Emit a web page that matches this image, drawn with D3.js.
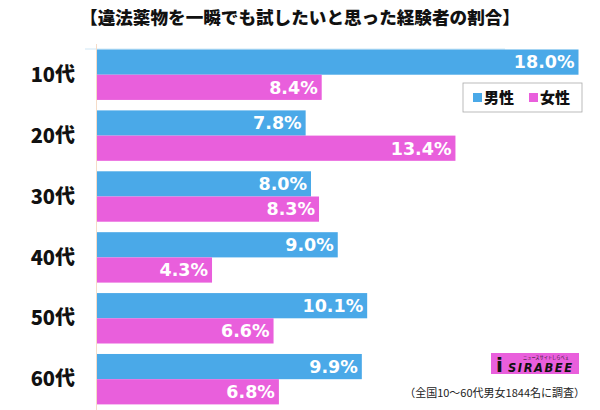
<!DOCTYPE html>
<html><head><meta charset="utf-8">
<script src="https://cdn.jsdelivr.net/npm/d3@7"></script>
<style>
html,body{margin:0;padding:0;background:#fff;}
svg{display:block;font-family:"Noto Sans CJK JP","Noto Sans",sans-serif;}
</style></head>
<body>
<script>
const categories = ["10代","20代","30代","40代","50代","60代"];
const male = [18.0, 7.8, 8.0, 9.0, 10.1, 9.9];
const female = [8.4, 13.4, 8.3, 4.3, 6.6, 6.8];
const seriesNames = ["男性","女性"];
const colors = ["#4aa9e8","#e95fdc"];
const title = "【違法薬物を一瞬でも試したいと思った経験者の割合】";
const note = "（全国10～60代男女1844名に調査）";

const W = 600, H = 410;
const svg = d3.select("body").append("svg").attr("width", W).attr("height", H);

const x = d3.scaleLinear().domain([0, 18]).range([97, 578.5]);
const y = d3.scaleBand().domain(categories).range([49.5, 404.4]).paddingInner(0.172).paddingOuter(0);
const sub = d3.scaleBand().domain(seriesNames).range([0, y.bandwidth()]);

// title
svg.append("text").attr("x", 300).attr("y", 24).attr("text-anchor", "middle")
  .attr("font-size", 17.6).attr("font-weight", 900).attr("fill", "#111").text(title);

// faint top line
svg.append("line").attr("x1", 85).attr("x2", 505).attr("y1", 49).attr("y2", 49)
  .attr("stroke", "#cfe6f5").attr("stroke-width", 1);

const data = categories.map((c, i) => ({cat: c, vals: [male[i], female[i]]}));

const g = svg.selectAll("g.grp").data(data).join("g").attr("class", "grp")
  .attr("transform", d => `translate(0,${y(d.cat)})`);

g.selectAll("rect").data(d => d.vals.map((v, j) => ({v, s: seriesNames[j], j})))
  .join("rect")
  .attr("x", x(0)).attr("y", d => sub(d.s))
  .attr("width", d => x(d.v) - x(0)).attr("height", sub.bandwidth())
  .attr("fill", d => colors[d.j]);

g.selectAll("text.val").data(d => d.vals.map((v, j) => ({v, s: seriesNames[j], j})))
  .join("text").attr("class", "val")
  .attr("x", d => x(d.v) - 4).attr("y", d => sub(d.s) + sub.bandwidth() / 2)
  .attr("dy", "0.36em").attr("text-anchor", "end")
  .attr("font-family", "'DejaVu Sans', sans-serif")
  .attr("font-size", 17.5).attr("font-weight", 700).attr("fill", "#fff")
  .text(d => d.v.toFixed(1) + "%");

// category labels
svg.selectAll("text.cat").data(categories).join("text").attr("class", "cat")
  .attr("x", 75).attr("y", d => y(d) + y.bandwidth() / 2).attr("dy", "0.36em")
  .attr("text-anchor", "end").attr("font-size", 20).attr("font-weight", 900)
  .attr("fill", "#111").text(d => d);

// axis line
svg.append("line").attr("x1", x(0) - 0.5).attr("x2", x(0) - 0.5).attr("y1", 44).attr("y2", 410)
  .attr("stroke", "#f5dcc8").attr("stroke-width", 1);

// legend
const lg = svg.append("g").attr("transform", "translate(463,83)");
lg.append("rect").attr("width", 119).attr("height", 29).attr("fill", "#fff")
  .attr("stroke", "#aaa").attr("stroke-width", 0.8);
const items = [{n: seriesNames[0], c: colors[0], x: 10}, {n: seriesNames[1], c: colors[1], x: 66}];
items.forEach(it => {
  lg.append("rect").attr("x", it.x).attr("y", 10).attr("width", 9).attr("height", 9).attr("fill", it.c);
  lg.append("text").attr("x", it.x + 11).attr("y", 15).attr("dy", "0.36em")
    .attr("font-size", 15).attr("font-weight", 900).attr("fill", "#111").text(it.n);
});

// logo
const logo = svg.append("g").attr("transform", "translate(491,353)");
logo.append("rect").attr("width", 88).attr("height", 21).attr("fill", "#e95fdc");
logo.append("text").attr("x", 5).attr("y", 19).attr("font-size", 20).attr("font-weight", 900)
  .attr("font-family", "'DejaVu Sans', sans-serif").attr("fill", "#111").text("i");
logo.append("text").attr("x", 17).attr("y", 19).attr("font-size", 11.5).attr("font-weight", 900)
  .attr("font-style", "italic").attr("font-family", "'DejaVu Sans', sans-serif")
  .attr("fill", "#111").attr("textLength", 64).text("SIRABEE");
logo.append("text").attr("x", 32).attr("y", 6).attr("font-size", 4.2).attr("fill", "#111")
  .text("ニュースサイトしらべぇ");

// note
svg.append("text").attr("x", 585).attr("y", 397).attr("text-anchor", "end")
  .attr("font-size", 11).attr("fill", "#222").text(note);
</script>
</body></html>
